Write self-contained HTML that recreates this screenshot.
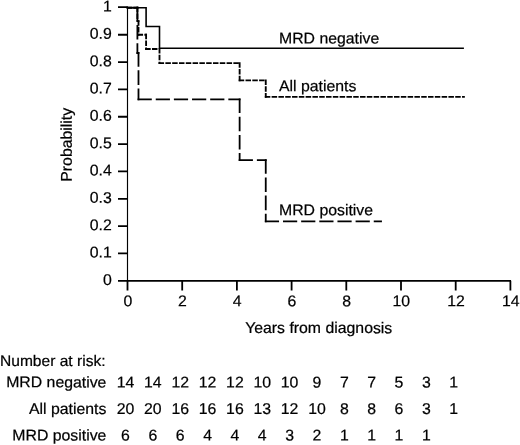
<!DOCTYPE html>
<html><head><meta charset="utf-8"><title>Figure</title>
<style>
html,body{margin:0;padding:0;background:#fff;overflow:hidden;}
svg{display:block;}
text{font-family:"Liberation Sans",Arial,sans-serif;font-size:15.6px;fill:#000;stroke:#000;stroke-width:0.22px;}
.ax{stroke:#000;stroke-width:1.8;fill:none;}
.c{stroke:#000;stroke-width:1.5;fill:none;}
</style></head><body>
<svg width="520" height="445" viewBox="0 0 520 445">
<rect width="520" height="445" fill="#fff"/>

<path class="ax" style="stroke-width:1.15" d="M127.5 6.5 V280.8"/>
<path class="ax" style="stroke-width:1.85" d="M118.0 280.8 H511.00"/>
<path class="ax" d="M118.0 253.46 H127.5 M118.0 226.12 H127.5 M118.0 198.78 H127.5 M118.0 171.44 H127.5 M118.0 144.10 H127.5 M118.0 116.76 H127.5 M118.0 89.42 H127.5 M118.0 62.08 H127.5 M118.0 34.74 H127.5 M118.0 7.10 H127.5 "/>
<path class="ax" d="M127.50 280.8 V290.60 M182.20 280.8 V290.60 M236.90 280.8 V290.60 M291.60 280.8 V290.60 M346.30 280.8 V290.60 M401.00 280.8 V290.60 M455.70 280.8 V290.60 M510.40 280.8 V290.60 "/>
<text transform="translate(111.80 284.90) rotate(0.03) scale(1.015 1)" text-anchor="end">0</text>
<text transform="translate(111.80 257.56) rotate(0.03) scale(1.015 1)" text-anchor="end">0.1</text>
<text transform="translate(111.80 230.22) rotate(0.03) scale(1.015 1)" text-anchor="end">0.2</text>
<text transform="translate(111.80 202.88) rotate(0.03) scale(1.015 1)" text-anchor="end">0.3</text>
<text transform="translate(111.80 175.54) rotate(0.03) scale(1.015 1)" text-anchor="end">0.4</text>
<text transform="translate(111.80 148.20) rotate(0.03) scale(1.015 1)" text-anchor="end">0.5</text>
<text transform="translate(111.80 120.86) rotate(0.03) scale(1.015 1)" text-anchor="end">0.6</text>
<text transform="translate(111.80 93.52) rotate(0.03) scale(1.015 1)" text-anchor="end">0.7</text>
<text transform="translate(111.80 66.18) rotate(0.03) scale(1.015 1)" text-anchor="end">0.8</text>
<text transform="translate(111.80 38.84) rotate(0.03) scale(1.015 1)" text-anchor="end">0.9</text>
<text transform="translate(111.80 11.50) rotate(0.03) scale(1.015 1)" text-anchor="end">1</text>
<text transform="translate(127.80 306.20) rotate(0.03) scale(1.015 1)" text-anchor="middle">0</text>
<text transform="translate(182.50 306.20) rotate(0.03) scale(1.015 1)" text-anchor="middle">2</text>
<text transform="translate(237.20 306.20) rotate(0.03) scale(1.015 1)" text-anchor="middle">4</text>
<text transform="translate(291.90 306.20) rotate(0.03) scale(1.015 1)" text-anchor="middle">6</text>
<text transform="translate(346.60 306.20) rotate(0.03) scale(1.015 1)" text-anchor="middle">8</text>
<text transform="translate(401.30 306.20) rotate(0.03) scale(1.015 1)" text-anchor="middle">10</text>
<text transform="translate(456.00 306.20) rotate(0.03) scale(1.015 1)" text-anchor="middle">12</text>
<text transform="translate(510.70 306.20) rotate(0.03) scale(1.015 1)" text-anchor="middle">14</text>
<text transform="translate(318.70 333.10) rotate(0.03) scale(1.015 1)" text-anchor="middle">Years from diagnosis</text>
<text transform="translate(71.8,144.8) rotate(-89.97) scale(1.015 1)" text-anchor="middle">Probability</text>
<path class="c" style="stroke-width:1.6" d="M127.50 7.70 L146.10 7.70 L146.10 26.54 L159.50 26.54 L159.50 48.27 L463.91 48.27"/>
<path class="c" style="stroke-width:1.85" stroke-linecap="square" stroke-dasharray="3.65 3.15" d="M127.50 7.70 L137.40 7.70 M137.40 21.07 L138.49 21.07 M138.49 34.74 L146.10 34.74 M146.10 48.96 L159.50 48.96 M159.50 63.17 L239.63 63.17 M239.63 80.40 L265.75 80.40 M265.75 96.80 L463.91 96.80"/>
<path class="c" style="stroke-width:1.85" stroke-linecap="square" stroke-dasharray="3.65 3.15" d="M137.40 7.70 L137.40 21.07 M138.49 21.07 L138.49 34.74 M146.10 34.74 L146.10 48.96 M159.50 48.96 L159.50 63.17 M239.63 63.17 L239.63 80.40 M265.75 80.40 L265.75 96.80"/>
<path class="c" style="stroke-width:1.8" stroke-linecap="square" stroke-dasharray="12.40 5.75" d="M127.50 7.70 L137.40 7.70 M137.40 52.98 L138.49 52.98 M138.49 99.40 L239.63 99.40 M239.63 160.09 L265.75 160.09 M265.75 221.42 L381.03 221.42"/>
<path class="c" style="stroke-width:1.8" stroke-linecap="square" stroke-dasharray="12.80 5.40" d="M137.40 7.70 L137.40 52.98 M138.49 52.98 L138.49 99.40 M239.63 99.40 L239.63 160.09 M265.75 160.09 L265.75 221.42"/>
<text transform="translate(279.00 43.50) rotate(0.03) scale(1.015 1)">MRD negative</text>
<text transform="translate(279.00 91.20) rotate(0.03) scale(1.015 1)">All patients</text>
<text transform="translate(279.00 215.20) rotate(0.03) scale(1.015 1)">MRD positive</text>
<text transform="translate(0.00 366.00) rotate(0.03) scale(1.015 1)" style="font-size:15.35px">Number at risk:</text>
<text transform="translate(106.40 387.40) rotate(0.03) scale(1.015 1)" text-anchor="end">MRD negative</text>
<text transform="translate(125.50 387.40) rotate(0.03) scale(1.015 1)" text-anchor="middle">14</text>
<text transform="translate(152.85 387.40) rotate(0.03) scale(1.015 1)" text-anchor="middle">14</text>
<text transform="translate(180.20 387.40) rotate(0.03) scale(1.015 1)" text-anchor="middle">12</text>
<text transform="translate(207.55 387.40) rotate(0.03) scale(1.015 1)" text-anchor="middle">12</text>
<text transform="translate(234.90 387.40) rotate(0.03) scale(1.015 1)" text-anchor="middle">12</text>
<text transform="translate(262.25 387.40) rotate(0.03) scale(1.015 1)" text-anchor="middle">10</text>
<text transform="translate(289.60 387.40) rotate(0.03) scale(1.015 1)" text-anchor="middle">10</text>
<text transform="translate(316.95 387.40) rotate(0.03) scale(1.015 1)" text-anchor="middle">9</text>
<text transform="translate(344.30 387.40) rotate(0.03) scale(1.015 1)" text-anchor="middle">7</text>
<text transform="translate(371.65 387.40) rotate(0.03) scale(1.015 1)" text-anchor="middle">7</text>
<text transform="translate(399.00 387.40) rotate(0.03) scale(1.015 1)" text-anchor="middle">5</text>
<text transform="translate(426.35 387.40) rotate(0.03) scale(1.015 1)" text-anchor="middle">3</text>
<text transform="translate(453.70 387.40) rotate(0.03) scale(1.015 1)" text-anchor="middle">1</text>
<text transform="translate(106.40 414.00) rotate(0.03) scale(1.015 1)" text-anchor="end">All patients</text>
<text transform="translate(125.50 414.00) rotate(0.03) scale(1.015 1)" text-anchor="middle">20</text>
<text transform="translate(152.85 414.00) rotate(0.03) scale(1.015 1)" text-anchor="middle">20</text>
<text transform="translate(180.20 414.00) rotate(0.03) scale(1.015 1)" text-anchor="middle">16</text>
<text transform="translate(207.55 414.00) rotate(0.03) scale(1.015 1)" text-anchor="middle">16</text>
<text transform="translate(234.90 414.00) rotate(0.03) scale(1.015 1)" text-anchor="middle">16</text>
<text transform="translate(262.25 414.00) rotate(0.03) scale(1.015 1)" text-anchor="middle">13</text>
<text transform="translate(289.60 414.00) rotate(0.03) scale(1.015 1)" text-anchor="middle">12</text>
<text transform="translate(316.95 414.00) rotate(0.03) scale(1.015 1)" text-anchor="middle">10</text>
<text transform="translate(344.30 414.00) rotate(0.03) scale(1.015 1)" text-anchor="middle">8</text>
<text transform="translate(371.65 414.00) rotate(0.03) scale(1.015 1)" text-anchor="middle">8</text>
<text transform="translate(399.00 414.00) rotate(0.03) scale(1.015 1)" text-anchor="middle">6</text>
<text transform="translate(426.35 414.00) rotate(0.03) scale(1.015 1)" text-anchor="middle">3</text>
<text transform="translate(453.70 414.00) rotate(0.03) scale(1.015 1)" text-anchor="middle">1</text>
<text transform="translate(106.40 440.60) rotate(0.03) scale(1.015 1)" text-anchor="end">MRD positive</text>
<text transform="translate(125.50 440.60) rotate(0.03) scale(1.015 1)" text-anchor="middle">6</text>
<text transform="translate(152.85 440.60) rotate(0.03) scale(1.015 1)" text-anchor="middle">6</text>
<text transform="translate(180.20 440.60) rotate(0.03) scale(1.015 1)" text-anchor="middle">6</text>
<text transform="translate(207.55 440.60) rotate(0.03) scale(1.015 1)" text-anchor="middle">4</text>
<text transform="translate(234.90 440.60) rotate(0.03) scale(1.015 1)" text-anchor="middle">4</text>
<text transform="translate(262.25 440.60) rotate(0.03) scale(1.015 1)" text-anchor="middle">4</text>
<text transform="translate(289.60 440.60) rotate(0.03) scale(1.015 1)" text-anchor="middle">3</text>
<text transform="translate(316.95 440.60) rotate(0.03) scale(1.015 1)" text-anchor="middle">2</text>
<text transform="translate(344.30 440.60) rotate(0.03) scale(1.015 1)" text-anchor="middle">1</text>
<text transform="translate(371.65 440.60) rotate(0.03) scale(1.015 1)" text-anchor="middle">1</text>
<text transform="translate(399.00 440.60) rotate(0.03) scale(1.015 1)" text-anchor="middle">1</text>
<text transform="translate(426.35 440.60) rotate(0.03) scale(1.015 1)" text-anchor="middle">1</text>
</svg></body></html>
